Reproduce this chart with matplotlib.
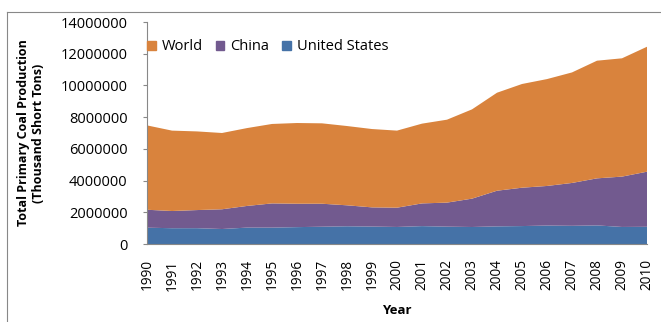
import matplotlib
matplotlib.use("Agg")
import matplotlib.pyplot as plt
from matplotlib.patches import Patch
from matplotlib.lines import Line2D

years = list(range(1990, 2011))
us = [1029, 996, 998, 945, 1034, 1033, 1064, 1090, 1118, 1100, 1074,
      1128, 1094, 1072, 1112, 1131, 1163, 1147, 1172, 1075, 1085]
china_top = [2160, 2080, 2140, 2190, 2400, 2560, 2540, 2540, 2440, 2310, 2290,
             2560, 2610, 2860, 3360, 3550, 3660, 3850, 4140, 4250, 4560]
world_top = [7480, 7150, 7100, 7000, 7310, 7570, 7630, 7610, 7440, 7250, 7150,
             7590, 7840, 8490, 9540, 10090, 10400, 10820, 11560, 11710, 12440]

us_v = [u * 1000 for u in us]
china_v = [(c - u) * 1000 for c, u in zip(china_top, us)]
world_v = [(w - c) * 1000 for w, c in zip(world_top, china_top)]

c_world = "#D9833D"
c_china = "#725A8F"
c_us = "#4572A7"

plt.rcParams['font.family'] = ['Open Sans', 'DejaVu Sans']

fig = plt.figure(figsize=(6.61, 3.22), dpi=100)
ax = fig.add_axes([147/661, 1-244/322, 500/661, 222/322])

ax.stackplot(years, us_v, china_v, world_v, colors=[c_us, c_china, c_world],
             linewidth=0)

ax.set_xlim(1990, 2010)
ax.set_ylim(0, 14000000)
ax.set_yticks(range(0, 14000001, 2000000))
ax.set_yticklabels([str(v) for v in range(0, 14000001, 2000000)], fontsize=10.5)
ax.set_xticks(years)
ax.set_xticklabels([str(y) for y in years], rotation=90, fontsize=9.8)
ax.tick_params(axis='y', length=3, pad=11, color='#888888')
ax.tick_params(axis='x', length=0, pad=11)

for s in ['top', 'right']:
    ax.spines[s].set_visible(False)
for s in ['left', 'bottom']:
    ax.spines[s].set_color('#888888')
    ax.spines[s].set_linewidth(0.8)

ax.set_ylabel("Total Primary Coal Production\n(Thousand Short Tons)",
              fontsize=9, fontweight='bold', labelpad=11)
ax.set_xlabel("Year", fontsize=9.5, fontweight='bold', labelpad=10)

handles = [Patch(color=c_world, label='World'),
           Patch(color=c_china, label='China'),
           Patch(color=c_us, label='United States')]
ax.legend(handles=handles, loc='upper left', ncol=3, frameon=False,
          fontsize=10.5, handlelength=0.6, handleheight=0.6, handletextpad=0.4,
          columnspacing=0.9, borderpad=0.0, bbox_to_anchor=(-0.015, 0.955))

# figure border (top and left visible)
fig.add_artist(Line2D([7/661, 1], [1-12/322, 1-12/322], color='#888888',
                      linewidth=0.8, transform=fig.transFigure))
fig.add_artist(Line2D([7/661, 7/661], [0, 1-12/322], color='#888888',
                      linewidth=0.8, transform=fig.transFigure))

fig.savefig("out.png", dpi=100)
